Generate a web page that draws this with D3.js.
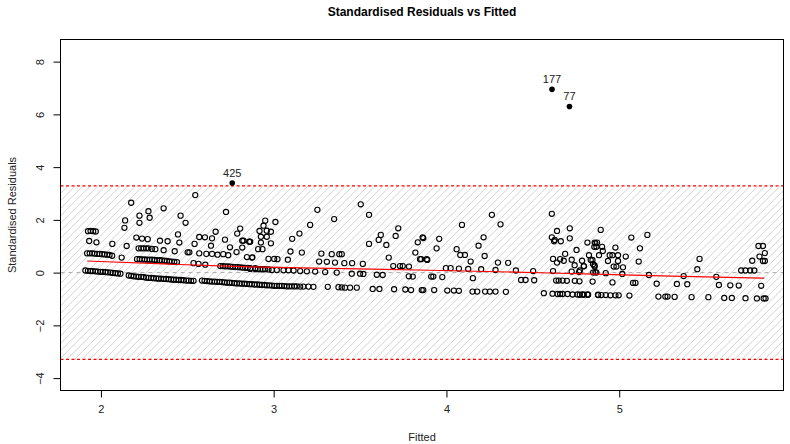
<!DOCTYPE html>
<html><head><meta charset="utf-8">
<script src="https://cdn.jsdelivr.net/npm/d3@7"></script>
<style>body{margin:0;background:#fff} svg{display:block}</style>
</head><body><svg id="c" width="790" height="444"></svg>
<script>
// ---------- data (fitted, standardised residual) ----------
const titleText = "Standardised Residuals vs Fitted";
const xTicks = [2, 3, 4, 5];
const yTicks = [-4, -2, 0, 2, 4, 6, 8];
const threshold = 3.29;

const bandLow = [
[1.910,0.08],[1.925,0.07],[1.939,0.06],[1.953,0.06],[1.968,0.05],[1.982,0.04],[1.997,0.03],[2.011,0.03],[2.026,0.02],[2.040,0.01],[2.055,0.00],[2.069,-0.01],[2.084,-0.02],[2.098,-0.03],[2.113,-0.04],
[2.161,-0.11],[2.175,-0.12],[2.190,-0.14],[2.204,-0.15],[2.218,-0.16],[2.233,-0.16],[2.247,-0.17],[2.262,-0.19],[2.276,-0.20],[2.290,-0.20],[2.305,-0.21],[2.320,-0.22],[2.334,-0.23],[2.348,-0.23],[2.363,-0.24],[2.377,-0.24],[2.392,-0.25],[2.406,-0.26],[2.421,-0.27],[2.435,-0.27],[2.450,-0.28],[2.465,-0.28],[2.479,-0.29],[2.494,-0.30],[2.508,-0.30],[2.522,-0.31],[2.536,-0.31],
[2.585,-0.30],[2.600,-0.31],[2.614,-0.32],[2.629,-0.33],[2.643,-0.34],[2.658,-0.34],[2.672,-0.35],[2.687,-0.35],[2.701,-0.36],[2.716,-0.37],[2.730,-0.38],[2.744,-0.38],[2.758,-0.39],[2.773,-0.40],[2.787,-0.41],[2.802,-0.41],[2.816,-0.42],[2.831,-0.42],[2.845,-0.43],[2.860,-0.44],[2.874,-0.44],[2.889,-0.45],[2.903,-0.45],
[2.918,-0.46],[2.932,-0.47],[2.947,-0.47],[2.961,-0.48],[2.975,-0.48],[2.990,-0.49],[3.004,-0.50],[3.018,-0.50],[3.033,-0.50],[3.047,-0.50],[3.061,-0.51],[3.076,-0.52],[3.090,-0.52],[3.105,-0.52],[3.120,-0.52],[3.134,-0.52],[3.153,-0.53],[3.172,-0.53],[3.201,-0.53],[3.230,-0.54],
[3.313,-0.54],[3.375,-0.55],[3.394,-0.56],[3.413,-0.57],[3.442,-0.57],[3.481,-0.57],[3.573,-0.62],[3.612,-0.62],[3.697,-0.63],[3.762,-0.64],[3.795,-0.66],[3.857,-0.66],
[3.866,-0.66],[3.929,-0.66],[4.005,-0.68],[4.043,-0.68],[4.072,-0.69],[4.151,-0.72],[4.178,-0.72],[4.224,-0.72],[4.251,-0.72],[4.284,-0.72],[4.344,-0.73],
[4.564,-0.78],[4.614,-0.80],[4.643,-0.81],[4.658,-0.81],[4.672,-0.81],[4.701,-0.81],[4.730,-0.83],[4.758,-0.83],[4.787,-0.83],[4.816,-0.83],[4.877,-0.84],
[4.772,-0.84],[4.795,-0.84],[4.820,-0.84],[4.878,-0.85],[4.897,-0.85],[4.922,-0.85],[4.949,-0.86],[4.978,-0.86],[4.997,-0.86],[5.059,-0.87],[5.227,-0.91],[5.267,-0.91],[5.280,-0.91],[5.321,-0.92],[5.419,-0.93],[5.516,-0.93],[5.608,-0.96],[5.652,-0.96],[5.731,-0.97],[5.797,-0.98],[5.836,-0.98],[5.847,-0.98]
];

const bandMid = [
[1.920,0.73],[1.935,0.73],[1.949,0.73],[1.963,0.72],[1.978,0.71],[1.992,0.71],[2.007,0.70],[2.021,0.69],[2.036,0.68],[2.050,0.67],[2.065,0.64],[2.120,0.57],
[2.209,0.51],[2.224,0.51],[2.238,0.50],[2.253,0.50],[2.267,0.49],[2.282,0.49],[2.296,0.49],[2.310,0.48],[2.325,0.47],[2.340,0.47],[2.353,0.46],[2.368,0.45],[2.382,0.44],[2.397,0.43],[2.411,0.42],[2.425,0.41],[2.440,0.40],
[2.536,0.36],[2.565,0.33],[2.604,0.30],
[2.691,0.25],[2.706,0.25],[2.720,0.24],[2.735,0.24],[2.749,0.23],[2.764,0.22],[2.778,0.21],[2.792,0.21],[2.806,0.20],[2.820,0.19],[2.835,0.18],[2.850,0.18],[2.864,0.17],[2.893,0.17],
[2.864,0.14],[2.893,0.14],[2.908,0.13],[2.922,0.13],[2.937,0.13],[2.951,0.13],[2.970,0.12],[2.990,0.10],[3.018,0.10],[3.057,0.09],[3.086,0.09],[3.115,0.08],[3.153,0.06],[3.192,0.05],[3.240,0.04],[3.298,0.02],[3.365,0.00],
[3.452,-0.04],[3.500,-0.04],[3.519,-0.05],[3.597,-0.08],[3.631,-0.09],[3.782,-0.14],[3.805,-0.15],
[3.912,-0.15],[3.924,-0.15],[3.976,-0.17],[4.153,-0.21],[4.432,-0.28],[4.458,-0.28],[4.508,-0.29],[4.635,-0.30],[4.650,-0.30],[4.672,-0.30],[4.697,-0.31],[4.743,-0.31],[4.770,-0.33],[4.846,-0.34],
[4.961,-0.37],[5.080,-0.39],[5.094,-0.39],[5.217,-0.42],[5.334,-0.43],[5.394,-0.44],[5.577,-0.47],[5.643,-0.48],[5.692,-0.49],[5.822,-0.50]
];

const bandHigh = [
[1.932,1.20],[1.974,1.15],[2.066,1.09],[2.149,1.01],[2.218,0.92],[2.233,0.92],[2.247,0.92],[2.262,0.92],[2.275,0.92],[2.295,0.90],[2.315,0.89],[2.363,0.85],[2.427,0.81],[2.502,0.77],[2.512,0.77],[2.569,0.73],[2.610,0.71],[2.643,0.71],[2.675,0.68],[2.708,0.70],[2.737,0.66],[2.845,0.59],[2.877,0.58],
[2.874,0.57],[2.970,0.52],[3.003,0.52],[3.022,0.51],[3.082,0.49],[3.263,0.42],[3.308,0.41],[3.355,0.38],[3.409,0.36],[3.454,0.36],[3.516,0.33],[3.692,0.25],[3.731,0.25],[3.747,0.25],[3.783,0.23],
[3.997,0.17],[4.024,0.17],[4.072,0.15],[4.126,0.14],[4.201,0.13],[4.284,0.10],[4.402,0.08],[4.502,0.06],[4.617,0.06],[4.725,0.04],[4.768,0.02],[4.862,0.02],
[4.772,0.08],[4.849,0.00],[4.868,0.00],[4.922,-0.02],[5.018,-0.05],[5.172,-0.09],[5.373,-0.13],[5.562,-0.16]
];

const scatterUpper = [
[2.546,2.94],[2.175,2.65],[2.363,2.44],[2.275,2.33],[2.223,2.16],[2.461,2.16],[2.282,2.08],[2.724,2.30],[2.140,1.98],[2.223,1.89],[2.490,1.89],[2.136,1.70],[2.806,1.67],[2.664,1.55],[2.789,1.48],[2.446,1.45],
[1.925,1.57],[1.940,1.58],[1.955,1.57],[1.970,1.56],
[2.205,1.33],[2.238,1.29],[2.271,1.27],[2.342,1.21],[2.386,1.19],[2.454,1.14],[2.569,1.35],[2.602,1.34],[2.643,1.30],[2.542,1.09],[2.637,1.02],[2.718,1.25],[2.818,1.21],[2.825,1.21],[2.858,1.17],[2.747,0.96],[2.818,0.95],[2.785,0.78],
[3.504,2.59],[3.253,2.38],[3.552,2.19],[3.350,2.03],[2.951,1.97],[3.010,1.92],[3.211,1.81],[2.941,1.78],[2.918,1.58],[2.960,1.59],[2.984,1.55],[3.149,1.48],[3.107,1.28],[3.721,1.68],[3.620,1.43],[3.608,1.24],[3.706,1.39],[3.862,1.34],[3.834,1.15],[2.926,1.36],[2.960,1.36],
[2.864,1.17],[2.926,1.14],[2.984,1.11],[3.552,1.09],[3.652,1.05],[2.910,0.89],[2.935,0.89],[3.097,0.80],[3.163,0.76],[3.276,0.72],[3.336,0.70],[3.380,0.70],[3.394,0.70],[3.820,0.76],[3.666,0.57],[3.854,0.51],[3.886,0.51],
[4.263,2.19],[4.090,1.81],[4.313,1.83],[3.866,1.31],[3.958,1.28],[4.215,1.34],[4.610,2.23],[4.714,1.68],[4.640,1.58],[4.610,1.34],[4.623,1.19],[4.627,1.24],[4.662,1.19],[4.714,1.30],[4.816,1.14],[4.862,1.11],[4.186,1.02],[3.943,0.92],[4.059,0.89],[4.080,0.67],[4.107,0.67],[4.221,0.63],[3.847,0.51],[3.889,0.48],[4.140,0.42],[4.298,0.38],[4.357,0.37],[4.753,0.86],[4.687,0.71],[4.617,0.52],[4.640,0.38],[4.658,0.51],[4.679,0.45],[4.725,0.49],[4.742,0.28],[4.785,0.45],[4.796,0.24],[4.835,0.48],[4.849,0.32],[4.858,0.23],[4.868,0.98],
[4.893,1.62],[5.070,1.33],[5.163,1.43],[4.858,1.14],[4.872,1.14],[4.856,0.98],[4.901,0.98],[4.905,0.82],[4.978,0.95],[5.120,0.92],[4.825,0.66],[4.845,0.48],[4.883,0.66],[4.945,0.66],[4.961,0.66],[4.993,0.66],[5.038,0.61],[4.935,0.44],[4.993,0.44],[4.795,0.25],[4.857,0.27],[4.968,0.23],[4.984,0.23],[5.022,0.20],[5.113,0.42],[5.465,0.52],[5.452,0.13],[5.706,0.08],[5.731,0.08],[5.758,0.08],[5.782,0.08],[5.770,0.45],[5.806,1.01],[5.832,1.01],[5.843,0.74],[5.812,0.61],[5.832,0.44],[5.843,0.44]
];

const outlierIds = ["425", "177", "77"];
const outlierFitted = [2.76, 4.611, 4.712];
const outlierResid = [3.40, 6.95, 6.30];

const loessFitted = [1.92, 2.40, 2.86, 3.40, 3.90, 4.40, 4.80, 5.30, 5.84];
const loessResid = [0.44, 0.32, 0.22, 0.15, 0.09, 0.02, -0.05, -0.13, -0.21];

// ---------- drawing ----------
const svg = d3.select("#c");
const font = "'Liberation Sans', Arial, Helvetica, sans-serif";
const L = 60.5, R = 783.5, T = 39.5, B = 390.5;
const x = d3.scaleLinear().domain([1.766, 5.951]).range([L, R]);
const y = d3.scaleLinear().domain([-4.47, 8.84]).range([B, T]);

svg.append("rect").attr("width", 790).attr("height", 444).attr("fill", "#fff");

// title
svg.append("text").attr("x", (L + R) / 2).attr("y", 16).attr("text-anchor", "middle")
  .attr("font-family", font).attr("font-weight", "bold").attr("font-size", 12).text(titleText);

// hatch between thresholds
const yTop = y(threshold), yBot = y(-threshold);
svg.append("clipPath").attr("id", "hc").append("rect")
  .attr("x", L).attr("y", yTop).attr("width", R - L).attr("height", yBot - yTop);
const hg = svg.append("g").attr("clip-path", "url(#hc)");
const h = yBot - yTop;
const starts = d3.range(L - h, R + 8, 7.5);
hg.selectAll("line").data(starts).join("line")
  .attr("x1", d => d).attr("y1", yBot).attr("x2", d => d + h).attr("y2", yTop)
  .attr("stroke", "#d2d2d2").attr("stroke-width", 1);

// zero line
svg.append("line").attr("x1", L).attr("x2", R).attr("y1", y(0)).attr("y2", y(0))
  .attr("stroke", "#aaaaaa").attr("stroke-dasharray", "4,4").attr("stroke-width", 1);

// threshold lines
[threshold, -threshold].forEach(t => {
  svg.append("line").attr("x1", L).attr("x2", R).attr("y1", y(t)).attr("y2", y(t))
    .attr("stroke", "#ff0000").attr("stroke-dasharray", "3,2.5").attr("stroke-width", 1.2);
});

// points
const allPts = bandLow.concat(bandMid, bandHigh, scatterUpper);
svg.append("g").selectAll("circle").data(allPts).join("circle")
  .attr("cx", d => x(d[0])).attr("cy", d => y(d[1])).attr("r", 2.6)
  .attr("fill", "none").attr("stroke", "#000").attr("stroke-width", 1.1);

// loess
const line = d3.line().x(d => x(d[0])).y(d => y(d[1])).curve(d3.curveMonotoneX);
svg.append("path").datum(loessFitted.map((f, i) => [f, loessResid[i]]))
  .attr("d", line).attr("fill", "none").attr("stroke", "#ff0000").attr("stroke-width", 1.2);

// outliers
outlierIds.forEach((id, i) => {
  svg.append("circle").attr("cx", x(outlierFitted[i])).attr("cy", y(outlierResid[i])).attr("r", 2.8).attr("fill", "#000");
  svg.append("text").attr("x", x(outlierFitted[i])).attr("y", y(outlierResid[i]) - 6)
    .attr("text-anchor", "middle").attr("font-family", font).attr("font-size", 11).attr("fill", "#222").text(id);
});

// box
svg.append("rect").attr("x", L).attr("y", T).attr("width", R - L).attr("height", B - T)
  .attr("fill", "none").attr("stroke", "#000").attr("stroke-width", 1);

// axes
const xa = svg.append("g").attr("transform", `translate(0,${B})`)
  .call(d3.axisBottom(x).tickValues(xTicks).tickSize(7).tickPadding(8).tickFormat(d3.format("d")));
xa.select(".domain").remove();
xa.selectAll("text").attr("font-family", font).attr("font-size", 11).attr("fill", "#222");

const ya = svg.append("g").attr("transform", `translate(${L},0)`)
  .call(d3.axisLeft(y).tickValues(yTicks).tickSize(7).tickFormat(d => d < 0 ? "\u2212" + Math.abs(d) : String(d)));
ya.select(".domain").remove();
ya.selectAll("text").attr("font-family", font).attr("font-size", 11).attr("fill", "#222")
  .attr("x", -20).attr("y", 0).attr("dy", "0.35em").attr("text-anchor", "middle")
  .attr("transform", "rotate(-90,-20,0)");

// axis titles
svg.append("text").attr("x", (L + R) / 2).attr("y", 441).attr("text-anchor", "middle")
  .attr("font-family", font).attr("font-size", 11).attr("fill", "#222").text("Fitted");
svg.append("text").attr("transform", `translate(16,${(T + B) / 2}) rotate(-90)`).attr("text-anchor", "middle")
  .attr("font-family", font).attr("font-size", 11).attr("fill", "#222").text("Standardised Residuals");
</script></body></html>
